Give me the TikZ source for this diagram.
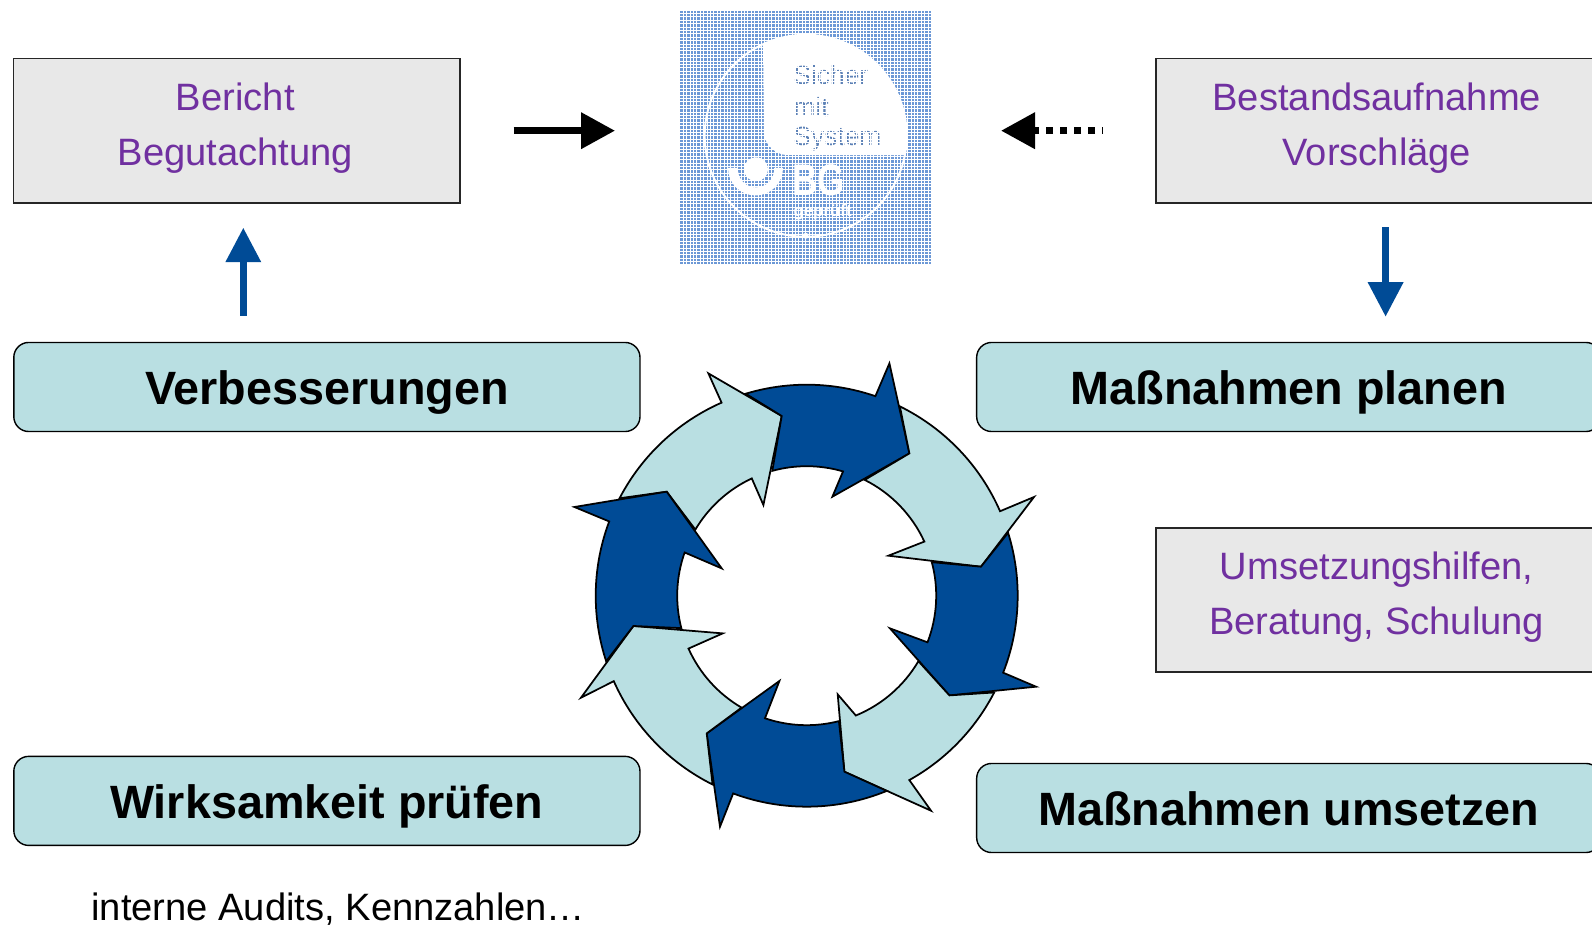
\documentclass[tikz,border=0pt]{standalone}
\usepackage{fontspec}
\usepackage{graphicx}
\setmainfont{Liberation Sans}
\usetikzlibrary{arrows.meta}
\definecolor{tealfill}{HTML}{B9DFE2}
\definecolor{darkblue}{HTML}{004B96}
\definecolor{purpletext}{HTML}{7030A0}
\definecolor{greyfill}{HTML}{E8E8E8}
\definecolor{logoblue}{HTML}{6C98D6}
\tikzset{
  greybox/.style={draw=black!85,fill=greyfill,line width=1.1pt,minimum height=82.2pt,inner sep=0pt},
  tealbox/.style={draw=black,fill=tealfill,line width=.8pt,rounded corners=8.5pt,minimum height=50.7pt,inner sep=0pt,
    font=\fontsize{26.6}{31}\selectfont\bfseries,text height=26pt,text depth=6.2pt},
  greytext/.style={text=purpletext,align=center,inner sep=0pt,font=\fontsize{21.7}{31.2}\selectfont},
  ringdark/.style={draw=black,fill=darkblue,line width=1pt},
  ringlight/.style={draw=black,fill=tealfill,line width=1pt},
  blackarrow/.style={black,line width=3.97pt,-{Triangle[length=.68cm,width=.7cm]}},
  bluearrow/.style={darkblue,line width=3.8pt,-{Triangle[length=.69cm,width=.68cm]}},
  logotext/.style={anchor=base west,inner sep=0pt,text=logoblue!85!black,font=\fontsize{15}{17}\selectfont}
}
\begin{document}
\begin{tikzpicture}[x=0.02cm,y=0.02cm]
\useasboundingbox (0,0) rectangle (1592,926);
\clip (0,0) rectangle (1592,926);

\begin{scope}[shift={(805.7,790.2)}]
\fill[logoblue] (-126.7,-128.5) rectangle (126,124.8);
\fill[white] (115:101) arc[start angle=115,end angle=-11,radius=101] -- (-19,-19.2)
  .. controls (-30,-19.2) and (-41.7,-8) .. (-41.7,2.8) -- cycle;
\draw[white,line width=1.1pt] (0,0) circle[radius=101];
\fill[white] (-77.7,-32.2) arc[start angle=180,end angle=360,radius=27.5] -- cycle;
\fill[logoblue] (-49.7,-33.5) circle[radius=18];
\fill[white] (-49.7,-33.5) circle[radius=12];
\fill[white] (0,-100) circle[radius=3];
\node[logotext] (sicher) at (-12.5,50.8) {Sicher};
\node[logotext] (mit) at (-12.5,19.1) {mit};
\node[logotext] (system) at (-12.5,-10) {System};
\node[anchor=base west,inner sep=0pt,text=white,font=\fontsize{21}{25}\selectfont\bfseries] (bg) at (-14,-60) {\scalebox{.95}[1.2]{BG}};
\node[anchor=base west,inner sep=0pt,text=white,font=\fontsize{9.6}{12}\selectfont\bfseries] (geprueft) at (-12.5,-81) {geprüft};
\draw[white,line width=.55pt,step=3.4] (-126.7,-128.5) grid (126,124.8);
\end{scope}

\node[greybox,minimum width=254.2pt] (bericht) at (236.8,795.3) {};
\node[greytext] (berichttext) at (235.3,797.8) {Bericht\\Begutachtung};
\node[greybox,minimum width=253.1pt] (bestand) at (1378.3,795.3) {};
\node[greytext] (bestandtext) at (1376.8,797.8) {Bestandsaufnahme\\Vorschläge};
\node[greybox,minimum width=253.1pt] (hilfen) at (1378.3,326.2) {};
\node[greytext] (hilfentext) at (1376.7,328.7) {Umsetzungshilfen,\\Beratung, Schulung};

\node[tealbox,minimum width=356.4pt] (verbesserungen) at (326.9,539) {Verbesserungen};
\node[tealbox,minimum width=355.2pt] (planen) at (1288.7,539) {Maßnahmen planen};
\node[tealbox,minimum width=356.4pt] (pruefen) at (326.9,125.1) {Wirksamkeit prüfen};
\node[tealbox,minimum width=355.2pt] (umsetzen) at (1288.7,118) {Maßnahmen umsetzen};
\node[anchor=base west,inner sep=0pt,font=\fontsize{21.7}{26}\selectfont] (audits) at (91,5) {interne Audits, Kennzahlen…};

\coordinate (rightstart) at (513.5,795.3);
\coordinate (rightend) at (615,795.3);
\coordinate (leftstart) at (1103,795.3);
\coordinate (leftend) at (1001,795.3);
\coordinate (upstart) at (243.3,610);
\coordinate (upend) at (243.3,698.3);
\coordinate (downstart) at (1385.6,698.7);
\coordinate (downend) at (1385.6,609.3);
\draw[blackarrow] (rightstart) -- (rightend);
\draw[blackarrow,dash pattern=on 3.97pt off 3.97pt,dash phase=3.4pt] (leftstart) -- (leftend);
\draw[bluearrow] (upstart) -- (upend);
\draw[bluearrow] (downstart) -- (downend);

\begin{scope}[shift={(806.7,330.3)}]
\draw[ringlight] (152.5:211) arc[start angle=152.5,end angle=113.8,radius=211] -- (-98.3,222.3) -- (-25,179.7) -- (-43.3,90.7)
  -- (115.1:129.5) arc[start angle=115.1,end angle=149.3,radius=129.5] -- (-140,104) -- cycle;
\draw[ringdark] (106.8:211) arc[start angle=106.8,end angle=71,radius=211] -- (82.7,232.3) -- (102.7,142.3) -- (25.7,99)
  -- (73.7:129.5) arc[start angle=73.7,end angle=105.4,radius=129.5] -- (-25,179.7) -- cycle;
\draw[ringlight] (63.8:211) arc[start angle=63.8,end angle=23.6,radius=211] -- (227.3,98.7) -- (174.3,29) -- (81.7,40)
  -- (24.7:129.5) arc[start angle=24.7,end angle=63.4,radius=129.5] -- (102.7,142.3) -- cycle;
\draw[ringdark] (17.35:211) arc[start angle=17.35,end angle=-21.4,radius=211] -- (229.3,-91) -- (142.7,-99.7) -- (83.3,-32.7)
  -- (-21.1:129.5) arc[start angle=-21.1,end angle=15,radius=129.5] -- (174.3,29) -- cycle;
\draw[ringlight] (-27.3:211) arc[start angle=-27.3,end angle=-60.9,radius=211] -- (124.3,-215) -- (37.7,-176) -- (31,-98.7)
  -- (-67.7:129.5) arc[start angle=-67.7,end angle=-30.4,radius=129.5] -- (142.7,-99.7) -- cycle;
\draw[ringdark] (-67.7:211) arc[start angle=-67.7,end angle=-110.4,radius=211] -- (-86.7,-231) -- (-100,-137.7) -- (-27.3,-85.3)
  -- (-108.8:129.5) arc[start angle=-108.8,end angle=-75.6,radius=129.5] -- (37.7,-176) -- cycle;
\draw[ringlight] (-116.5:211) arc[start angle=-116.5,end angle=-156.1,radius=211] -- (-225.7,-102) -- (-173.3,-30.3) -- (-84,-37.7)
  -- (-155.9:129.5) arc[start angle=-155.9,end angle=-120.2,radius=129.5] -- (-100,-137.7) -- cycle;
\draw[ringdark] (198.1:211) arc[start angle=198.1,end angle=159.4,radius=211] -- (-232.3,88.7) -- (-140,104) -- (-85,27.3)
  -- (160.5:129.5) arc[start angle=160.5,end angle=194.5,radius=129.5] -- (-173.3,-30.3) -- cycle;
\end{scope}
\end{tikzpicture}
\end{document}
